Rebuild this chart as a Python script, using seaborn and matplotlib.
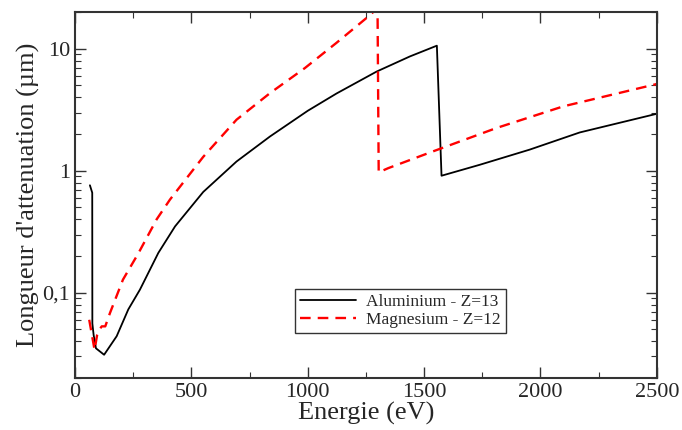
import pandas as pd
import seaborn as sns
import matplotlib.pyplot as plt
from matplotlib.ticker import FuncFormatter, MultipleLocator, LogLocator, NullFormatter

# données (énergie en eV, longueur en µm)
al_energie = [64, 74, 74.5, 80, 90, 125, 179, 229, 279, 358, 430, 551, 694, 838,
              1000, 1124, 1296, 1439, 1555, 1575, 1740, 1954, 2169, 2500]
al_longueur = [0.76, 0.66, 0.056, 0.045, 0.035, 0.031, 0.044, 0.073, 0.106, 0.212,
               0.35, 0.67, 1.19, 1.91, 3.1, 4.3, 6.5, 8.65, 10.6, 0.91, 1.12,
               1.49, 2.06, 2.93]

mg_energie = [61, 84, 95, 105, 115, 130, 150, 206, 272, 351, 408, 551, 694, 838,
              988, 1124, 1253, 1300, 1305, 1346, 1525, 1811, 2098, 2500]
mg_longueur = [0.060, 0.034, 0.045, 0.050, 0.053, 0.053, 0.068, 0.128, 0.21, 0.40,
               0.58, 1.3, 2.62, 4.33, 6.95, 11.2, 17.9, 21.5, 0.97, 1.05, 1.41,
               2.24, 3.37, 5.14]

labels = ['Aluminium - Z=13', 'Magnesium - Z=12']

sns.set_style("ticks")
plt.rcParams['font.family'] = ['Liberation Serif', 'DejaVu Serif']

fig = plt.figure(figsize=(6.82, 4.30), dpi=100)
ax = fig.add_axes([0.110, 0.121, 0.853, 0.851])

sns.lineplot(x=al_energie, y=al_longueur, sort=False, estimator=None, ax=ax,
             color='black', linewidth=1.3, label=labels[0])
sns.lineplot(x=mg_energie, y=mg_longueur, sort=False, estimator=None, ax=ax,
             color='red', linewidth=1.7, linestyle=(0, (4.5, 3)), label=labels[1])

ax.set_yscale('log')
ax.set_xlim(0, 2500)
ax.set_ylim(0.02, 20)

ax.xaxis.set_major_locator(MultipleLocator(500))
ax.xaxis.set_minor_locator(MultipleLocator(250))
ax.yaxis.set_major_locator(LogLocator(base=10, numticks=10))
ax.yaxis.set_minor_locator(LogLocator(base=10, subs=range(2, 10), numticks=20))
ax.yaxis.set_minor_formatter(NullFormatter())
ax.yaxis.set_major_formatter(FuncFormatter(lambda v, p: ('%g' % v).replace('.', ',')))

ax.tick_params(which='both', direction='in', top=True, right=True, labelsize=16,
               color='#333333')
ax.tick_params(which='major', length=8, width=1.0)
ax.tick_params(which='minor', length=4, width=0.8)
for s in ax.spines.values():
    s.set_linewidth(1.5)
    s.set_color('#333333')

ax.set_xlabel('Energie (eV)', fontsize=19, labelpad=0)
ax.set_ylabel("Longueur d'attenuation (µm)", fontsize=19, labelpad=2)

leg = ax.legend(loc='lower left', bbox_to_anchor=(0.378, 0.122), borderaxespad=0,
                fontsize=12.5, handlelength=3.2, frameon=True, fancybox=False,
                borderpad=0.3, labelspacing=0.1, handletextpad=0.6)
leg.get_frame().set_edgecolor('black')
leg.get_frame().set_linewidth(1.0)

plt.savefig('out.png', dpi=100)
